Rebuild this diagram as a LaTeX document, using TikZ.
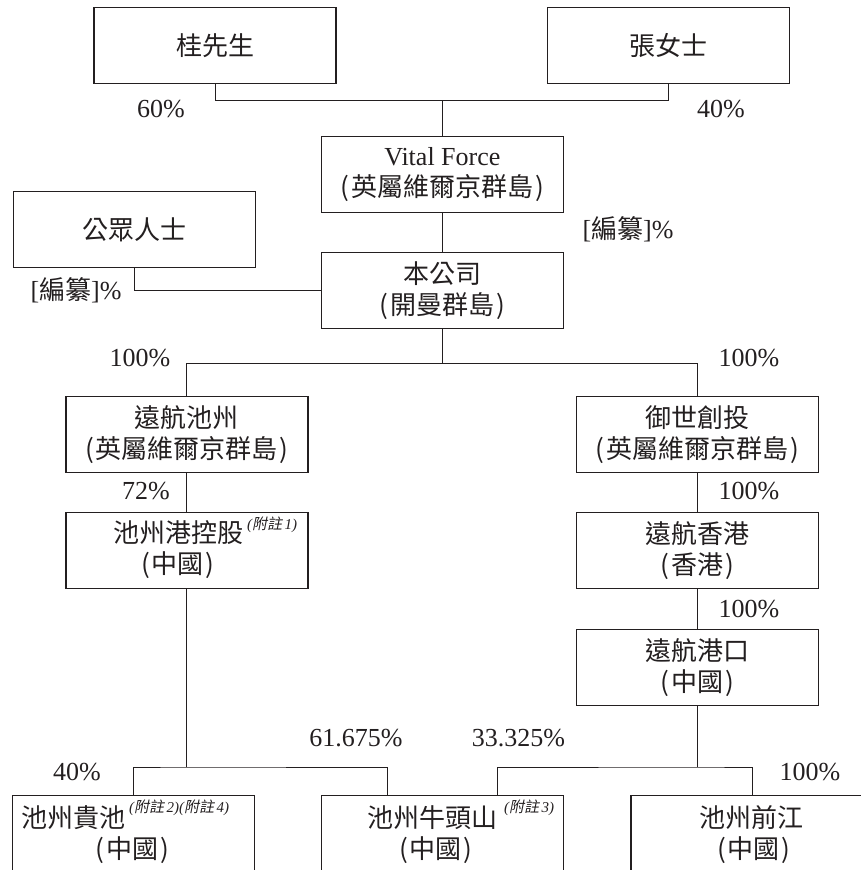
\documentclass[tikz,border=0pt]{standalone}
\usepackage{fontspec}
\setmainfont{Liberation Serif}
\newfontfamily\zhfont{Noto Sans CJK TC}
\newfontfamily\zhnote{Noto Sans CJK TC}[FakeSlant=0.2]
\newcommand\zh[1]{{\zhfont #1}}
\newcommand\zp[1]{{\zhfont(\kern2pt #1\kern2pt)}}
\newcommand\fuzhu[1]{{\itshape(}{\zhnote 附註}{\itshape\,#1)}}
\definecolor{ink}{HTML}{231F20}
\begin{document}
\begin{tikzpicture}[x=1pt,y=-1pt,
  box/.style={draw=ink, line width=1.3pt, minimum width=242pt, minimum height=76pt,
    inner sep=0pt, anchor=north west, align=center, text=ink,
    font=\fontsize{26}{31}\selectfont},
  lbl/.style={inner sep=0pt, text=ink, font=\fontsize{26}{31}\selectfont},
  pct/.style={inner sep=0pt, text=ink, font=\fontsize{26}{31}\selectfont},
  note/.style={inner sep=0pt, text=ink, anchor=west, font=\fontsize{15}{18}\selectfont},
  conn/.style={draw=ink, line width=1pt}]
\useasboundingbox (0,0) rectangle (861,870);
% boxes
\node[box] (gui) at (93.4,6.7) {\zh{桂先生}};
\node[box] (zhang) at (547,6.7) {\zh{張女士}};
\node[box] (vital) at (320.7,136) {Vital Force\\\zp{英屬維爾京群島}};
\node[box] (public) at (13,191) {\zh{公眾人士}};
\node[box] (company) at (320.7,252) {\zh{本公司}\\\zp{開曼群島}};
\node[box] (yhcz) at (65.3,396) {\zh{遠航池州}\\\zp{英屬維爾京群島}};
\node[box] (yscc) at (575.5,396) {\zh{御世創投}\\\zp{英屬維爾京群島}};
\node[box] (czgk) at (65.3,512) {};
\node[box] (yhhk) at (575.5,512) {\zh{遠航香港}\\\zp{香港}};
\node[box] (yhgk) at (575.5,629) {\zh{遠航港口}\\\zp{中國}};
\node[box, minimum height=90pt] (czgc) at (12,795) {};
\node[box, minimum height=90pt] (cznts) at (320.7,795) {};
\node[box, minimum height=90pt] (czqj) at (630.4,795) {};
% texts in boxes with notes
\node[lbl] (t1) at (178.5,533) {\zh{池州港控股}};
\node[note] (n1) at (247,525) {\fuzhu{1}};
\node[lbl] (t1b) at (178,565) {\zp{中國}};
\node[lbl] (t2) at (73.5,818) {\zh{池州貴池}};
\node[note] (n2) at (129,808) {\fuzhu{2}\fuzhu{4}};
\node[lbl] (t2b) at (132.6,850) {\zp{中國}};
\node[lbl] (t3) at (432,818) {\zh{池州牛頭山}};
\node[note] (n3) at (504,808) {\fuzhu{3}};
\node[lbl] (t3b) at (436,850) {\zp{中國}};
\node[lbl] (t4) at (751.5,818) {\zh{池州前江}};
\node[lbl] (t4b) at (754,850) {\zp{中國}};
% percentages
\node[pct] (p60) at (161,109) {60\%};
\node[pct] (p40) at (721,109) {40\%};
\node[pct] (pb1) at (628,229) {[\zh{編纂}]\%};
\node[pct] (pb2) at (76,290) {[\zh{編纂}]\%};
\node[pct] (p100a) at (140,358) {100\%};
\node[pct] (p100b) at (749,358) {100\%};
\node[pct] (p72) at (146,491) {72\%};
\node[pct] (p100c) at (749,491) {100\%};
\node[pct] (p100d) at (749,609) {100\%};
\node[pct] (p61) at (356,738) {61.675\%};
\node[pct] (p33) at (518.5,738) {33.325\%};
\node[pct] (p40b) at (77,772) {40\%};
\node[pct] (p100e) at (810,772) {100\%};
% connectors
\path (vital.north) ++(0,-35.3) coordinate (j1);
\draw[conn] (gui.south) |- (j1) -| (zhang.south);
\draw[conn] (j1) -- (vital.north);
\draw[conn] (vital.south) -- (company.north);
\draw[conn] (public.south) |- (company.west);
\path (company.south) ++(0,34) coordinate (j2);
\draw[conn] (company.south) -- (j2);
\draw[conn] (yhcz.north) |- (j2) -| (yscc.north);
\draw[conn] (yhcz.south) -- (czgk.north);
\draw[conn] (yscc.south) -- (yhhk.north);
\draw[conn] (yhhk.south) -- (yhgk.north);
\path (czgk.south) ++(0,177.7) coordinate (j3);
\coordinate (c61) at (387,795);
\coordinate (c33) at (497,795);
\draw[conn] (czgk.south) -- (j3);
\draw[conn] (czgc.north) |- (j3) -| (c61);
\path (yhgk.south) ++(0,60.7) coordinate (j4);
\draw[conn] (yhgk.south) -- (j4);
\draw[conn] (c33) |- (j4) -| (czqj.north);
\end{tikzpicture}
\end{document}
